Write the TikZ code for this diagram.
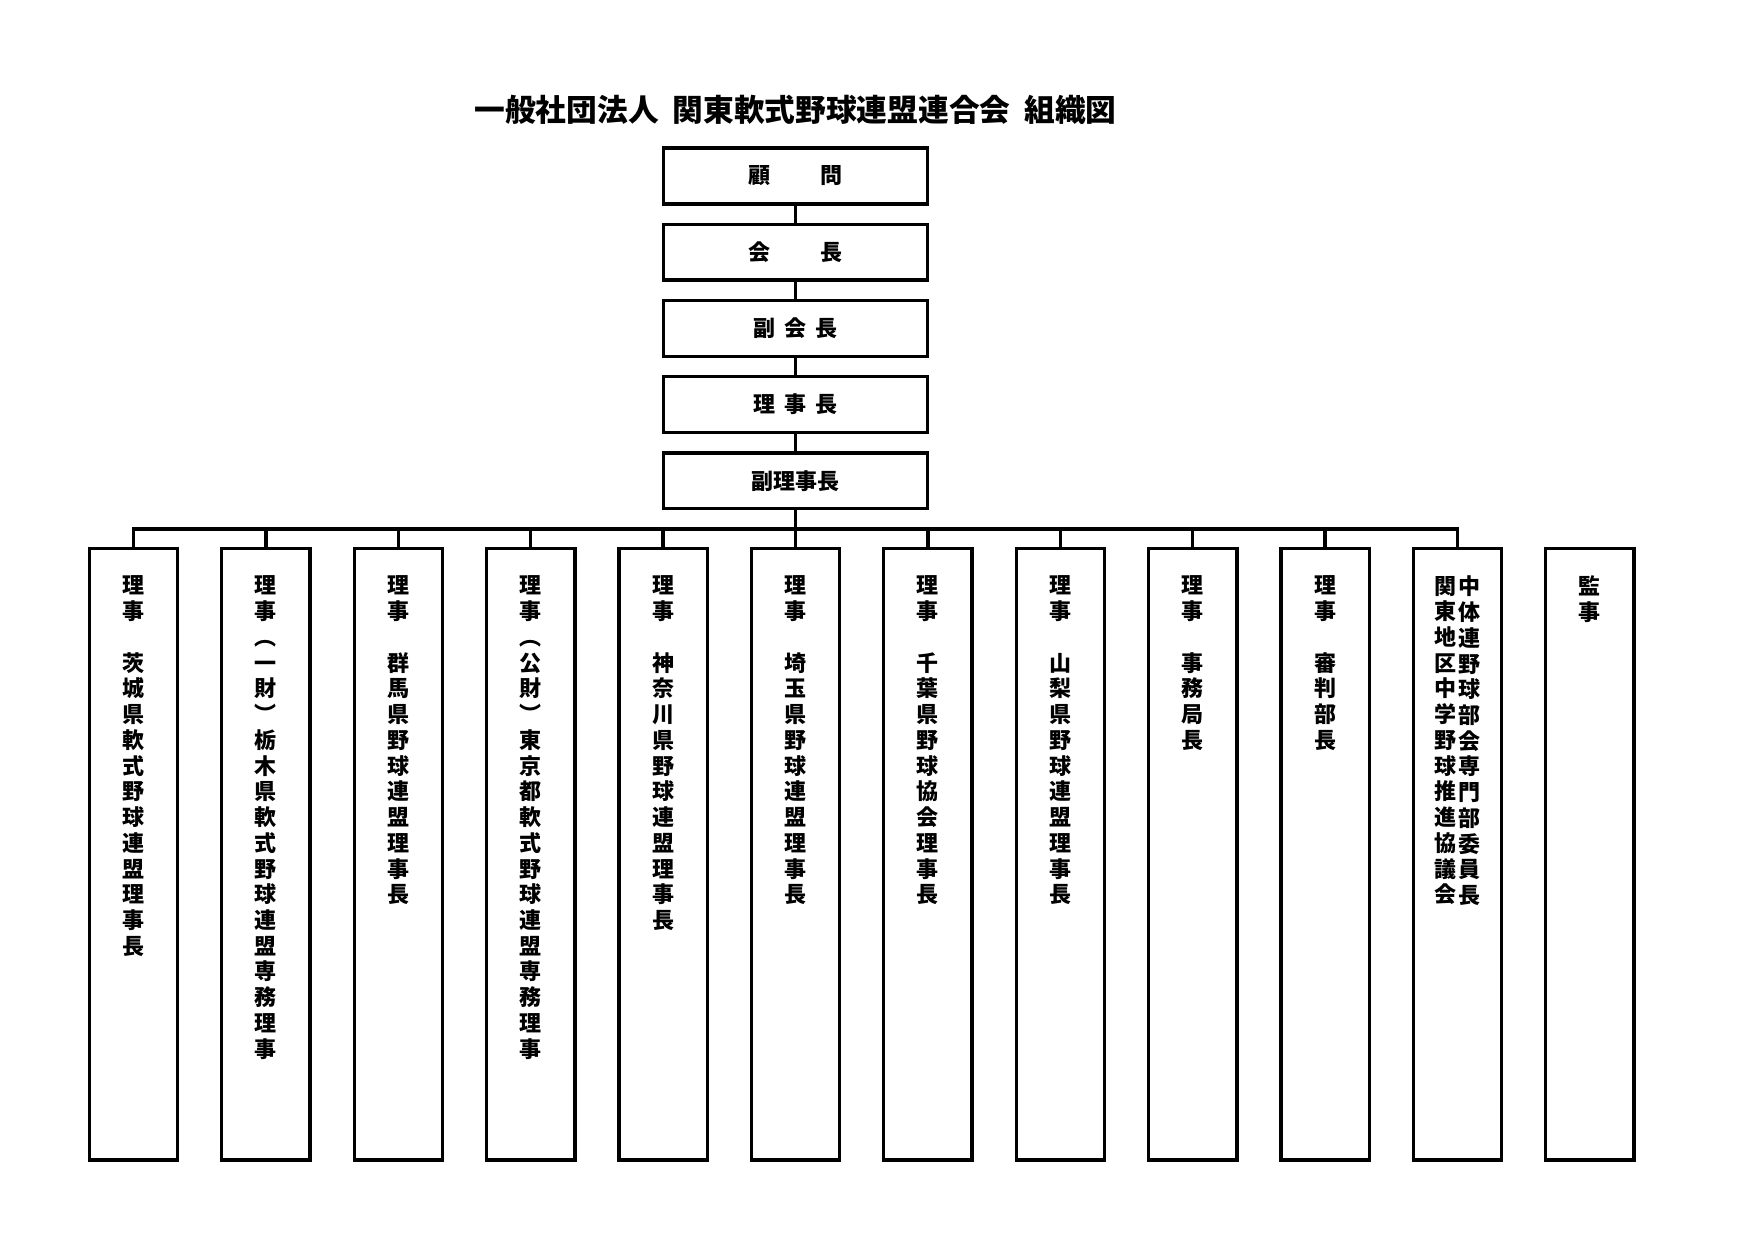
\documentclass[tikz,border=0pt]{standalone}
\usepackage{fontspec}
\newfontfamily\jp{Noto Sans CJK JP}
\begin{document}
\begin{tikzpicture}[x=0.16933mm,y=-0.16933mm,
  obox/.style={draw, line width=0.56mm, inner sep=0pt},
  topbox/.style={obox, minimum width=44.6mm, minimum height=9.45mm,
    font=\jp\bfseries\fontsize{10.6pt}{12pt}\selectfont},
  colbox/.style={obox, minimum width=14.95mm, minimum height=103.6mm},
  vtext/.style={font=\jp\bfseries\fontsize{10.6pt}{12.4pt}\selectfont,
    align=center, inner sep=0pt, anchor=north},
  conn/.style={line width=0.56mm}]
\useasboundingbox (0,0) rectangle (1754,1240);
\node[font=\jp\bfseries\fontsize{14.8pt}{17pt}\selectfont] (title) at (795.5,110)
  {一般社団法人\hspace{0.45em}関東軟式野球連盟連合会\hspace{0.45em}組織図};
\node[topbox] (v1) at (795.5,176.0) {顧\hspace{2.3em}問};
\node[topbox] (v2) at (795.5,252.2) {会\hspace{2.3em}長};
\node[topbox] (v3) at (795.5,328.4) {副\hspace{0.43em}会\hspace{0.43em}長};
\node[topbox] (v4) at (795.5,404.6) {理\hspace{0.43em}事\hspace{0.43em}長};
\node[topbox] (v5) at (795.5,480.8) {副理事長};
\draw[conn] (v1.south) -- (v2.north);
\draw[conn] (v2.south) -- (v3.north);
\draw[conn] (v3.south) -- (v4.north);
\draw[conn] (v4.south) -- (v5.north);
\foreach \i in {1,...,12}
  \node[colbox] (c\i) at ({133.5+132.4*(\i-1)},854.2) {};
\coordinate (bus) at (795.5,529);
\draw[conn] (v5.south) -- (bus);
\foreach \i in {1,...,11}
  \draw[conn] (c\i.north) |- (bus);
\tikzset{vshift/.style={yshift=-4.9mm}}
\node[vtext] (t1) at ([vshift]c1.north) {理\\事\\　\\茨\\城\\県\\軟\\式\\野\\球\\連\\盟\\理\\事\\長};
\node[vtext] (t2) at ([vshift]c2.north) {理\\事\\︵\\一\\財\\︶\\栃\\木\\県\\軟\\式\\野\\球\\連\\盟\\専\\務\\理\\事};
\node[vtext] (t3) at ([vshift]c3.north) {理\\事\\　\\群\\馬\\県\\野\\球\\連\\盟\\理\\事\\長};
\node[vtext] (t4) at ([vshift]c4.north) {理\\事\\︵\\公\\財\\︶\\東\\京\\都\\軟\\式\\野\\球\\連\\盟\\専\\務\\理\\事};
\node[vtext] (t5) at ([vshift]c5.north) {理\\事\\　\\神\\奈\\川\\県\\野\\球\\連\\盟\\理\\事\\長};
\node[vtext] (t6) at ([vshift]c6.north) {理\\事\\　\\埼\\玉\\県\\野\\球\\連\\盟\\理\\事\\長};
\node[vtext] (t7) at ([vshift]c7.north) {理\\事\\　\\千\\葉\\県\\野\\球\\協\\会\\理\\事\\長};
\node[vtext] (t8) at ([vshift]c8.north) {理\\事\\　\\山\\梨\\県\\野\\球\\連\\盟\\理\\事\\長};
\node[vtext] (t9) at ([vshift]c9.north) {理\\事\\　\\事\\務\\局\\長};
\node[vtext] (t10) at ([vshift]c10.north) {理\\事\\　\\審\\判\\部\\長};
\node[vtext] (t11a) at ([xshift=2.1mm,vshift]c11.north) {中\\体\\連\\野\\球\\部\\会\\専\\門\\部\\委\\員\\長};
\node[vtext] (t11b) at ([xshift=-2.1mm,vshift]c11.north) {関\\東\\地\\区\\中\\学\\野\\球\\推\\進\\協\\議\\会};
\node[vtext] (t12) at ([vshift]c12.north) {監\\事};
\end{tikzpicture}
\end{document}
